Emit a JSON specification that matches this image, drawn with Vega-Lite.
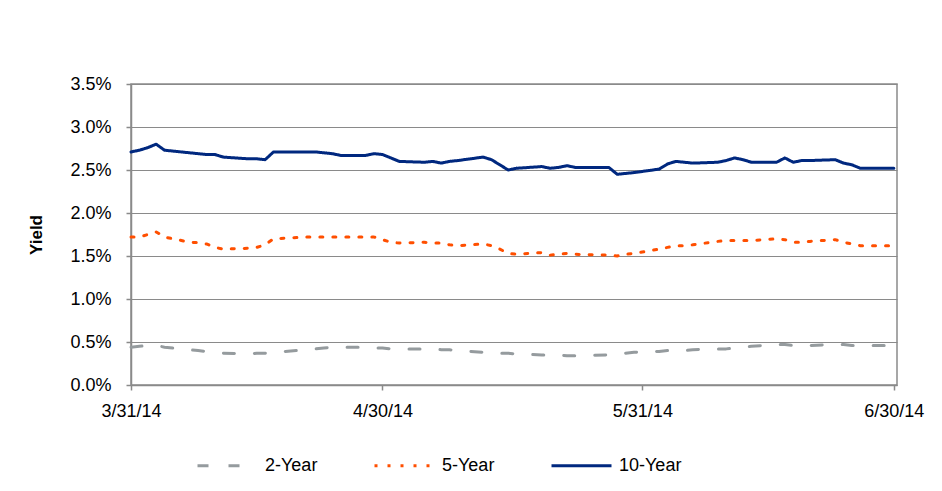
{
  "$schema": "https://vega.github.io/schema/vega-lite/v6.json",
  "width": 766,
  "height": 301,
  "autosize": "none",
  "padding": {"left": 131, "top": 84, "right": 45, "bottom": 106},
  "background": "white",
  "config": {
    "font": "Liberation Sans",
    "view": {"stroke": "#8a8a8a", "strokeWidth": 1.5},
    "axis": {"labelFont": "Liberation Sans", "labelFontSize": 18, "labelColor": "#000000", "domainColor": "#8a8a8a", "tickColor": "#8a8a8a", "gridColor": "#8a8a8a", "domainWidth": 1.5, "tickWidth": 1.5, "gridWidth": 1.2, "tickSize": 5}
  },
  "data": {
    "values": [
      {"d":"2014-03-31","s":"10-Year","v":2.71},{"d":"2014-04-01","s":"10-Year","v":2.73},{"d":"2014-04-02","s":"10-Year","v":2.76},{"d":"2014-04-03","s":"10-Year","v":2.80},{"d":"2014-04-04","s":"10-Year","v":2.73},
      {"d":"2014-04-07","s":"10-Year","v":2.70},{"d":"2014-04-08","s":"10-Year","v":2.69},{"d":"2014-04-09","s":"10-Year","v":2.68},{"d":"2014-04-10","s":"10-Year","v":2.68},{"d":"2014-04-11","s":"10-Year","v":2.65},
      {"d":"2014-04-14","s":"10-Year","v":2.63},{"d":"2014-04-15","s":"10-Year","v":2.63},{"d":"2014-04-16","s":"10-Year","v":2.62},{"d":"2014-04-17","s":"10-Year","v":2.71},
      {"d":"2014-04-21","s":"10-Year","v":2.71},{"d":"2014-04-22","s":"10-Year","v":2.71},{"d":"2014-04-23","s":"10-Year","v":2.70},{"d":"2014-04-24","s":"10-Year","v":2.69},{"d":"2014-04-25","s":"10-Year","v":2.67},
      {"d":"2014-04-28","s":"10-Year","v":2.67},{"d":"2014-04-29","s":"10-Year","v":2.69},{"d":"2014-04-30","s":"10-Year","v":2.68},{"d":"2014-05-01","s":"10-Year","v":2.64},{"d":"2014-05-02","s":"10-Year","v":2.60},
      {"d":"2014-05-05","s":"10-Year","v":2.59},{"d":"2014-05-06","s":"10-Year","v":2.60},{"d":"2014-05-07","s":"10-Year","v":2.58},{"d":"2014-05-08","s":"10-Year","v":2.60},{"d":"2014-05-09","s":"10-Year","v":2.61},
      {"d":"2014-05-12","s":"10-Year","v":2.65},{"d":"2014-05-13","s":"10-Year","v":2.62},{"d":"2014-05-14","s":"10-Year","v":2.56},{"d":"2014-05-15","s":"10-Year","v":2.50},{"d":"2014-05-16","s":"10-Year","v":2.52},
      {"d":"2014-05-19","s":"10-Year","v":2.54},{"d":"2014-05-20","s":"10-Year","v":2.52},{"d":"2014-05-21","s":"10-Year","v":2.53},{"d":"2014-05-22","s":"10-Year","v":2.55},{"d":"2014-05-23","s":"10-Year","v":2.53},
      {"d":"2014-05-27","s":"10-Year","v":2.53},{"d":"2014-05-28","s":"10-Year","v":2.45},{"d":"2014-05-29","s":"10-Year","v":2.46},{"d":"2014-05-30","s":"10-Year","v":2.47},
      {"d":"2014-06-02","s":"10-Year","v":2.51},{"d":"2014-06-03","s":"10-Year","v":2.57},{"d":"2014-06-04","s":"10-Year","v":2.60},{"d":"2014-06-05","s":"10-Year","v":2.59},{"d":"2014-06-06","s":"10-Year","v":2.58},
      {"d":"2014-06-09","s":"10-Year","v":2.59},{"d":"2014-06-10","s":"10-Year","v":2.61},{"d":"2014-06-11","s":"10-Year","v":2.64},{"d":"2014-06-12","s":"10-Year","v":2.62},{"d":"2014-06-13","s":"10-Year","v":2.59},
      {"d":"2014-06-16","s":"10-Year","v":2.59},{"d":"2014-06-17","s":"10-Year","v":2.64},{"d":"2014-06-18","s":"10-Year","v":2.59},{"d":"2014-06-19","s":"10-Year","v":2.61},{"d":"2014-06-20","s":"10-Year","v":2.61},
      {"d":"2014-06-23","s":"10-Year","v":2.62},{"d":"2014-06-24","s":"10-Year","v":2.58},{"d":"2014-06-25","s":"10-Year","v":2.56},{"d":"2014-06-26","s":"10-Year","v":2.52},{"d":"2014-06-27","s":"10-Year","v":2.52},{"d":"2014-06-30","s":"10-Year","v":2.52},

      {"d":"2014-03-31","s":"5-Year","v":1.72},{"d":"2014-04-01","s":"5-Year","v":1.72},{"d":"2014-04-02","s":"5-Year","v":1.75},{"d":"2014-04-03","s":"5-Year","v":1.78},{"d":"2014-04-04","s":"5-Year","v":1.72},
      {"d":"2014-04-07","s":"5-Year","v":1.66},{"d":"2014-04-08","s":"5-Year","v":1.655},{"d":"2014-04-09","s":"5-Year","v":1.64},{"d":"2014-04-10","s":"5-Year","v":1.60},{"d":"2014-04-11","s":"5-Year","v":1.58},
      {"d":"2014-04-14","s":"5-Year","v":1.59},{"d":"2014-04-15","s":"5-Year","v":1.60},{"d":"2014-04-16","s":"5-Year","v":1.63},{"d":"2014-04-17","s":"5-Year","v":1.70},
      {"d":"2014-04-21","s":"5-Year","v":1.72},{"d":"2014-04-22","s":"5-Year","v":1.72},{"d":"2014-04-23","s":"5-Year","v":1.72},{"d":"2014-04-24","s":"5-Year","v":1.72},{"d":"2014-04-25","s":"5-Year","v":1.72},
      {"d":"2014-04-28","s":"5-Year","v":1.72},{"d":"2014-04-29","s":"5-Year","v":1.72},{"d":"2014-04-30","s":"5-Year","v":1.69},{"d":"2014-05-01","s":"5-Year","v":1.66},{"d":"2014-05-02","s":"5-Year","v":1.65},
      {"d":"2014-05-05","s":"5-Year","v":1.66},{"d":"2014-05-06","s":"5-Year","v":1.65},{"d":"2014-05-07","s":"5-Year","v":1.65},{"d":"2014-05-08","s":"5-Year","v":1.63},{"d":"2014-05-09","s":"5-Year","v":1.62},
      {"d":"2014-05-12","s":"5-Year","v":1.64},{"d":"2014-05-13","s":"5-Year","v":1.62},{"d":"2014-05-14","s":"5-Year","v":1.58},{"d":"2014-05-15","s":"5-Year","v":1.53},{"d":"2014-05-16","s":"5-Year","v":1.52},
      {"d":"2014-05-19","s":"5-Year","v":1.54},{"d":"2014-05-20","s":"5-Year","v":1.51},{"d":"2014-05-21","s":"5-Year","v":1.52},{"d":"2014-05-22","s":"5-Year","v":1.53},{"d":"2014-05-23","s":"5-Year","v":1.52},
      {"d":"2014-05-27","s":"5-Year","v":1.51},{"d":"2014-05-28","s":"5-Year","v":1.50},{"d":"2014-05-29","s":"5-Year","v":1.52},{"d":"2014-05-30","s":"5-Year","v":1.53},
      {"d":"2014-06-02","s":"5-Year","v":1.58},{"d":"2014-06-03","s":"5-Year","v":1.60},{"d":"2014-06-04","s":"5-Year","v":1.62},{"d":"2014-06-05","s":"5-Year","v":1.62},{"d":"2014-06-06","s":"5-Year","v":1.63},
      {"d":"2014-06-09","s":"5-Year","v":1.67},{"d":"2014-06-10","s":"5-Year","v":1.68},{"d":"2014-06-11","s":"5-Year","v":1.68},{"d":"2014-06-12","s":"5-Year","v":1.68},{"d":"2014-06-13","s":"5-Year","v":1.68},
      {"d":"2014-06-16","s":"5-Year","v":1.70},{"d":"2014-06-17","s":"5-Year","v":1.69},{"d":"2014-06-18","s":"5-Year","v":1.66},{"d":"2014-06-19","s":"5-Year","v":1.66},{"d":"2014-06-20","s":"5-Year","v":1.67},
      {"d":"2014-06-23","s":"5-Year","v":1.69},{"d":"2014-06-24","s":"5-Year","v":1.66},{"d":"2014-06-25","s":"5-Year","v":1.64},{"d":"2014-06-26","s":"5-Year","v":1.62},{"d":"2014-06-27","s":"5-Year","v":1.62},{"d":"2014-06-30","s":"5-Year","v":1.62},

      {"d":"2014-03-31","s":"2-Year","v":0.44},{"d":"2014-04-01","s":"2-Year","v":0.45},{"d":"2014-04-02","s":"2-Year","v":0.46},{"d":"2014-04-03","s":"2-Year","v":0.46},{"d":"2014-04-04","s":"2-Year","v":0.44},
      {"d":"2014-04-07","s":"2-Year","v":0.41},{"d":"2014-04-08","s":"2-Year","v":0.40},{"d":"2014-04-09","s":"2-Year","v":0.39},{"d":"2014-04-10","s":"2-Year","v":0.38},{"d":"2014-04-11","s":"2-Year","v":0.37},
      {"d":"2014-04-14","s":"2-Year","v":0.36},{"d":"2014-04-15","s":"2-Year","v":0.37},{"d":"2014-04-16","s":"2-Year","v":0.37},{"d":"2014-04-17","s":"2-Year","v":0.38},
      {"d":"2014-04-21","s":"2-Year","v":0.41},{"d":"2014-04-22","s":"2-Year","v":0.42},{"d":"2014-04-23","s":"2-Year","v":0.43},{"d":"2014-04-24","s":"2-Year","v":0.44},{"d":"2014-04-25","s":"2-Year","v":0.44},
      {"d":"2014-04-28","s":"2-Year","v":0.44},{"d":"2014-04-29","s":"2-Year","v":0.43},{"d":"2014-04-30","s":"2-Year","v":0.43},{"d":"2014-05-01","s":"2-Year","v":0.42},{"d":"2014-05-02","s":"2-Year","v":0.42},
      {"d":"2014-05-05","s":"2-Year","v":0.42},{"d":"2014-05-06","s":"2-Year","v":0.42},{"d":"2014-05-07","s":"2-Year","v":0.41},{"d":"2014-05-08","s":"2-Year","v":0.41},{"d":"2014-05-09","s":"2-Year","v":0.40},
      {"d":"2014-05-12","s":"2-Year","v":0.38},{"d":"2014-05-13","s":"2-Year","v":0.38},{"d":"2014-05-14","s":"2-Year","v":0.37},{"d":"2014-05-15","s":"2-Year","v":0.37},{"d":"2014-05-16","s":"2-Year","v":0.36},
      {"d":"2014-05-19","s":"2-Year","v":0.35},{"d":"2014-05-20","s":"2-Year","v":0.35},{"d":"2014-05-21","s":"2-Year","v":0.35},{"d":"2014-05-22","s":"2-Year","v":0.34},{"d":"2014-05-23","s":"2-Year","v":0.34},
      {"d":"2014-05-27","s":"2-Year","v":0.35},{"d":"2014-05-28","s":"2-Year","v":0.36},{"d":"2014-05-29","s":"2-Year","v":0.37},{"d":"2014-05-30","s":"2-Year","v":0.38},
      {"d":"2014-06-02","s":"2-Year","v":0.39},{"d":"2014-06-03","s":"2-Year","v":0.40},{"d":"2014-06-04","s":"2-Year","v":0.40},{"d":"2014-06-05","s":"2-Year","v":0.40},{"d":"2014-06-06","s":"2-Year","v":0.41},
      {"d":"2014-06-09","s":"2-Year","v":0.42},{"d":"2014-06-10","s":"2-Year","v":0.42},{"d":"2014-06-11","s":"2-Year","v":0.43},{"d":"2014-06-12","s":"2-Year","v":0.44},{"d":"2014-06-13","s":"2-Year","v":0.45},
      {"d":"2014-06-16","s":"2-Year","v":0.47},{"d":"2014-06-17","s":"2-Year","v":0.47},{"d":"2014-06-18","s":"2-Year","v":0.46},{"d":"2014-06-19","s":"2-Year","v":0.46},{"d":"2014-06-20","s":"2-Year","v":0.46},
      {"d":"2014-06-23","s":"2-Year","v":0.47},{"d":"2014-06-24","s":"2-Year","v":0.47},{"d":"2014-06-25","s":"2-Year","v":0.46},{"d":"2014-06-26","s":"2-Year","v":0.46},{"d":"2014-06-27","s":"2-Year","v":0.46},{"d":"2014-06-30","s":"2-Year","v":0.46}
    ]
  },
  "mark": {"type": "line", "strokeWidth": 3, "strokeCap": "round", "strokeJoin": "round"},
  "encoding": {
    "x": {
      "field": "d", "type": "temporal",
      "scale": {"type": "utc", "domain": [{"year": 2014, "month": 3, "date": 31, "utc": true}, {"year": 2014, "month": 6, "date": 30, "hours": 9, "utc": true}]},
      "axis": {
        "title": null, "grid": false, "labelExpr": "utcFormat(datum.value, '%-m/%-d/%y')", "labelPadding": 12, "labelFlush": false, "labelOverlap": false,
        "values": [{"year": 2014, "month": 3, "date": 31, "utc": true}, {"year": 2014, "month": 4, "date": 30, "utc": true}, {"year": 2014, "month": 5, "date": 31, "utc": true}, {"year": 2014, "month": 6, "date": 30, "utc": true}]
      }
    },
    "y": {
      "field": "v", "type": "quantitative",
      "scale": {"domain": [0, 3.5], "nice": false, "zero": true},
      "axis": {
        "title": "Yield", "titleFont": "Liberation Sans", "titleFontSize": 17, "titleFontWeight": "bold", "titleColor": "#000000", "titlePadding": 24,
        "values": [0, 0.5, 1, 1.5, 2, 2.5, 3, 3.5], "labelExpr": "format(datum.value, '.1f') + '%'", "labelPadding": 15, "grid": true
      }
    },
    "color": {
      "field": "s", "type": "nominal",
      "scale": {"domain": ["2-Year", "5-Year", "10-Year"], "range": ["#959b9e", "#ff4f00", "#00287f"]},
      "legend": {"orient": "none", "legendX": 65, "legendY": 350, "direction": "horizontal", "title": null, "symbolType": "stroke", "symbolSize": 3600, "symbolStrokeWidth": 3, "labelFont": "Liberation Sans", "labelFontSize": 18, "labelColor": "#000000", "columnPadding": 50, "labelOffset": 6}
    },
    "strokeDash": {
      "field": "s", "type": "nominal",
      "scale": {"domain": ["2-Year", "5-Year", "10-Year"], "range": [[11, 20], [3, 10], [1, 0]]},
      "legend": {"orient": "none", "legendX": 65, "legendY": 350, "direction": "horizontal", "title": null, "symbolType": "stroke", "symbolSize": 3600, "symbolStrokeWidth": 3, "labelFont": "Liberation Sans", "labelFontSize": 18, "labelColor": "#000000", "columnPadding": 50, "labelOffset": 6}
    }
  }
}
